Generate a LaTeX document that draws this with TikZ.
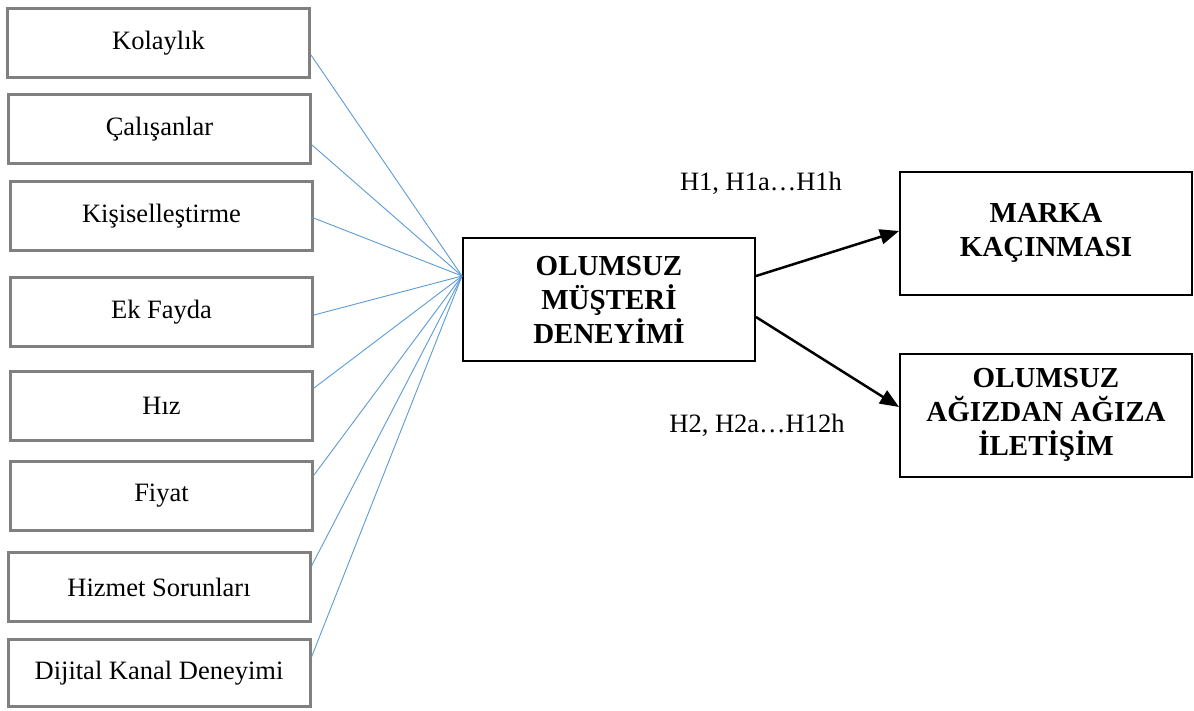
\documentclass[tikz,border=0pt]{standalone}
\usepackage{fontspec}
\setmainfont{Liberation Serif}
\usetikzlibrary{arrows.meta}
\begin{document}
\begin{tikzpicture}[x=1pt,y=-1pt,
  factor/.style={draw=black!50, line width=3pt, fill=white,
    minimum width=302pt, minimum height=69pt, inner sep=0pt,
    font=\fontsize{26.5}{31}\selectfont},
  construct/.style={draw=black, line width=2pt, fill=white,
    minimum width=292pt, minimum height=123pt, inner sep=0pt, align=center,
    font=\fontsize{29}{34}\selectfont\bfseries},
  link/.style={draw={rgb,255:red,91;green,155;blue,213}, line width=0.9pt},
  effect/.style={draw=black, line width=2.5pt,
    -{Triangle[length=19pt,width=15pt]}},
  hyp/.style={font=\fontsize{26.5}{31}\selectfont}]
\useasboundingbox (0,0) rectangle (1194,710);

% antecedent factors
\node[factor] (k1) at (158.5,43)  {Kolaylık};
\node[factor] (k2) at (159.5,129) {Çalışanlar};
\node[factor] (k3) at (161.5,216) {Kişiselleştirme};
\node[factor] (k4) at (161.5,312) {Ek Fayda};
\node[factor] (k5) at (161.5,406) {Hız};
\node[factor] (k6) at (161.5,496) {Fiyat};
\node[factor] (k7) at (159,587)   {Hizmet Sorunları};
\node[factor, minimum height=67pt] (k8) at (159,673) {Dijital Kanal Deneyimi};

% central and outcome constructs
\node[construct] (ce) at (609,299.5) {OLUMSUZ\\MÜŞTERİ\\DENEYİMİ};
\node[construct] (mk) at (1046,233)  {MARKA\\KAÇINMASI};
\node[construct] (ag) at (1046,415)  {OLUMSUZ\\AĞIZDAN AĞIZA\\İLETİŞİM};

\coordinate (hub) at ([yshift=23.5pt]ce.west);

% factor links into the central construct
\draw[link] ([yshift=-12pt]k1.east) -- (hub);
\draw[link] ([yshift=-16pt]k2.east) -- (hub);
\draw[link] ([yshift=-1pt,xshift=-3pt]k3.east) -- (hub);
\draw[link] ([yshift=-3pt]k4.east) -- (hub);
\draw[link] ([yshift=18pt]k5.east) -- (hub);
\draw[link] ([yshift=21pt]k6.east) -- (hub);
\draw[link] ([yshift=21pt]k7.east) -- (hub);
\draw[link] ([yshift=16pt]k8.east) -- (hub);

% hypothesised effects
\draw[effect] ([yshift=23.5pt]ce.east) -- ([yshift=2pt]mk.west);
\draw[effect] ([yshift=-17.5pt]ce.east) -- ([yshift=8pt]ag.west);

\node[hyp] (h1) at (761,183) {H1, H1a…H1h};
\node[hyp] (h2) at (757,425) {H2, H2a…H12h};
\end{tikzpicture}
\end{document}
